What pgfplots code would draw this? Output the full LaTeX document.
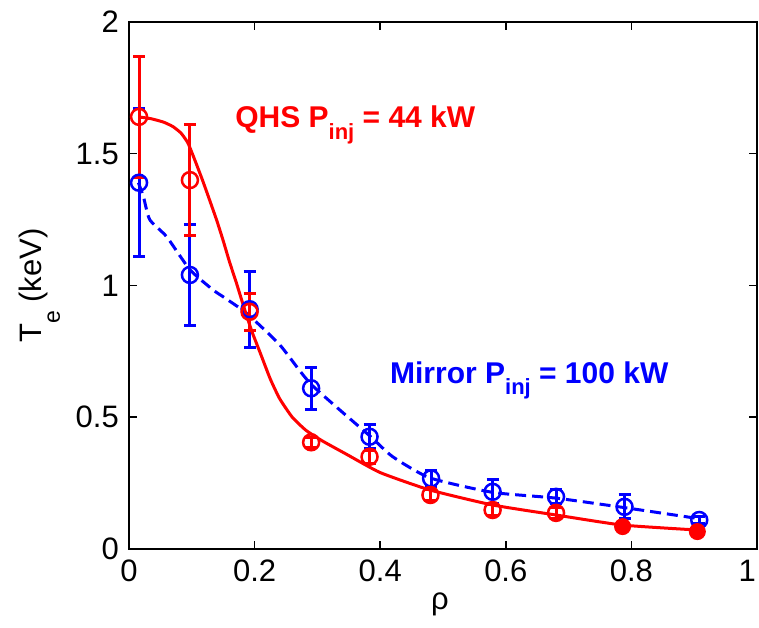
\documentclass[border=0pt]{standalone}
\usepackage{fontspec}
\setmainfont{Liberation Sans}
\usepackage{pgfplots}
\pgfplotsset{compat=1.18}
\definecolor{mred}{RGB}{255,0,0}
\definecolor{mblue}{RGB}{0,0,255}
\begin{document}
\begin{tikzpicture}
\begin{axis}[
  at={(129pt,79pt)}, anchor=south west,
  scale only axis, width=628pt, height=527pt,
  xmin=0, xmax=1, ymin=0, ymax=2,
  xtick={0,0.2,0.4,0.6,0.8}, ytick={0,0.5,1,1.5,2},
  xticklabels={0,0.2,0.4,0.6,0.8},
  yticklabels={0,0.5,1,1.5,2},
  tick align=inside, major tick length=8pt,
  axis line style={line width=1.5pt},
  every tick/.style={black, line width=1.5pt},
  /pgf/number format/assume math mode=true,
  ticklabel style={font=\fontsize{31}{31}\selectfont, inner sep=0pt},
  xticklabel style={anchor=north, yshift=-11pt},
  yticklabel style={anchor=east, xshift=-10pt},
  extra x ticks={1}, extra x tick labels={1},
  extra x tick style={xticklabel style={anchor=north east, xshift=-1pt}},
  xlabel={ρ},
  xlabel style={at={(axis description cs:0.495,-0.106)}, anchor=center, font=\fontsize{31}{31}\selectfont, inner sep=0pt},
  ylabel={T\raisebox{-18pt}{\fontsize{23}{23}\selectfont e} (keV)},
  ylabel style={at={(axis description cs:-0.142,0.5)}, anchor=center, font=\fontsize{31}{31}\selectfont, inner sep=0pt},
  clip=false,
]
% blue dashed curve
\addplot[mblue, line width=3pt, dash pattern=on 11pt off 6pt, smooth, tension=0.35] coordinates {
(0.015,1.39) (0.023,1.337) (0.033,1.25) (0.06,1.185) (0.097,1.06) (0.134,0.983) (0.15,0.957) (0.187,0.895) (0.24,0.775) (0.29,0.625) (0.383,0.43) (0.42,0.35) (0.479,0.27) (0.579,0.215) (0.68,0.193) (0.789,0.157) (0.908,0.115)
};
% blue markers with error bars
\addplot[mblue, only marks, mark=o, mark size=8pt, mark options={line width=2.5pt, solid},
  error bars/.cd, y dir=both, y explicit,
  error bar style={line width=3pt, solid},
  error mark options={rotate=90, mark size=6pt, line width=3pt, mblue}]
  table[x=x, y=y, y error=e] {
x y e
0.016 1.39 0.28
0.097 1.04 0.19
0.192 0.91 0.145
0.29 0.61 0.08
0.383 0.426 0.045
0.481 0.268 0.03
0.579 0.217 0.045
0.68 0.198 0.026
0.789 0.16 0.045
0.908 0.11 0.012
};
% red solid curve
\addplot[mred, line width=3pt, smooth, tension=0.3] coordinates {
(0.015,1.64) (0.035,1.633) (0.055,1.62) (0.07,1.603) (0.083,1.578) (0.094,1.54) (0.105,1.475) (0.117,1.40) (0.129,1.32) (0.14,1.245) (0.15,1.17) (0.16,1.09) (0.171,1.01) (0.182,0.925) (0.195,0.83) (0.209,0.744) (0.225,0.645) (0.24,0.57) (0.26,0.50) (0.282,0.45) (0.308,0.41) (0.346,0.36) (0.40,0.29) (0.479,0.224) (0.579,0.167) (0.68,0.129) (0.785,0.091) (0.905,0.072)
};
% red markers with error bars
\addplot[mred, only marks, mark=o, mark size=8pt, mark options={line width=2.5pt, solid},
  error bars/.cd, y dir=both, y explicit,
  error bar style={line width=3pt, solid},
  error mark options={rotate=90, mark size=6pt, line width=3pt, mred}]
  table[x=x, y=y, y error=e] {
x y e
0.016 1.64 0.23
0.097 1.40 0.21
0.192 0.90 0.07
0.29 0.405 0.02
0.383 0.35 0.025
0.48 0.205 0.02
0.579 0.148 0.02
0.68 0.137 0.02
};
\addplot[mred, only marks, mark=*, mark size=8pt, mark options={line width=1pt, solid},
  error bars/.cd, y dir=both, y explicit,
  error bar style={line width=3pt, solid},
  error mark options={rotate=90, mark size=6pt, line width=3pt, mred}]
  table[x=x, y=y, y error=e] {
x y e
0.786 0.085 0.015
0.905 0.066 0.015
};
\node[anchor=base west, text=mred, font=\bfseries\fontsize{30}{30}\selectfont, inner sep=0pt]
  at (axis cs:0.169,1.60) {QHS P\raisebox{-11.7pt}{\fontsize{22}{22}\selectfont inj} = 44 kW};
\node[anchor=base west, text=mblue, font=\bfseries\fontsize{30}{30}\selectfont, inner sep=0pt]
  at (axis cs:0.4155,0.629) {Mirror P\raisebox{-11.7pt}{\fontsize{22}{22}\selectfont inj} = 100 kW};
\end{axis}
\pgfresetboundingbox
\useasboundingbox (0,0) rectangle (759pt,628pt);
\end{tikzpicture}
\end{document}
